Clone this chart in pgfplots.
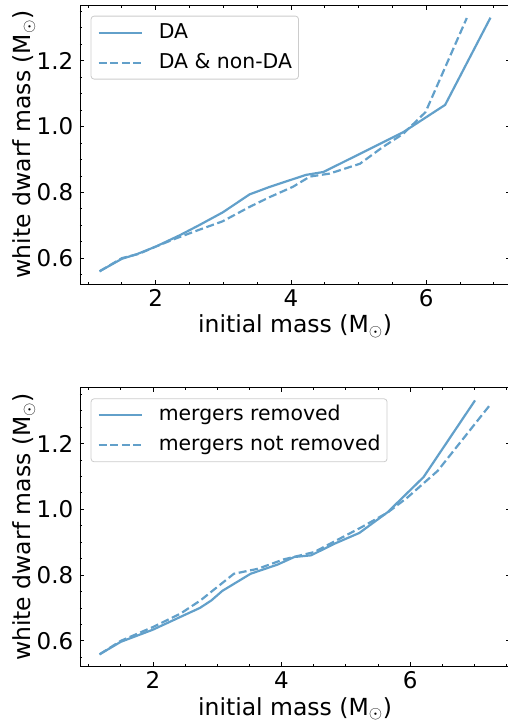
\documentclass[border=0pt]{standalone}
\usepackage{pgfplots}
\pgfplotsset{compat=1.18}
\usepackage{fontspec}
\setmainfont{DejaVu Sans}
\definecolor{c0}{RGB}{98,160,202}

\pgfplotstableread{
x y
1.17 0.560
1.50 0.598
1.72 0.612
2.00 0.635
2.36 0.670
2.64 0.700
2.99 0.739
3.39 0.794
3.69 0.817
4.22 0.853
4.48 0.862
4.97 0.912
5.66 0.983
6.28 1.066
6.95 1.331
}\topsolid
\pgfplotstableread{
x y
1.17 0.560
1.50 0.600
1.75 0.613
2.00 0.635
2.30 0.660
2.64 0.686
2.99 0.712
3.39 0.756
3.69 0.786
4.03 0.817
4.28 0.848
4.57 0.857
5.02 0.887
5.36 0.938
5.66 0.978
5.99 1.044
6.60 1.330
}\topdashed
\pgfplotstableread{
x y
1.17 0.559
1.50 0.597
2.00 0.634
2.43 0.673
2.73 0.700
2.91 0.723
3.08 0.752
3.52 0.804
3.94 0.832
4.20 0.855
4.46 0.860
4.82 0.895
5.21 0.928
5.65 0.991
6.21 1.098
7.01 1.331
}\botsolid
\pgfplotstableread{
x y
1.17 0.559
1.50 0.600
2.00 0.642
2.43 0.683
2.74 0.723
3.26 0.804
3.63 0.819
4.04 0.848
4.51 0.870
5.24 0.945
5.65 0.990
5.96 1.036
6.43 1.117
7.25 1.319
}\botdashed

\pgfplotsset{
  myax/.style={
    width=430bp, height=279bp, scale only axis,
    ymin=0.5214, ymax=1.3696,
    xtick={2,4,6}, minor xtick={1,1.5,...,7.5},
    ytick={0.6,0.8,1.0,1.2}, minor ytick={0.55,0.65,0.7,0.75,0.85,0.9,0.95,1.05,1.1,1.15,1.25,1.3,1.35},
    tick align=inside, xtick pos=both, ytick pos=left,
    extra y ticks={0.6,0.8,1.0,1.2}, extra y tick labels={},
    extra y tick style={ytick pos=right},
    major tick length=4.5bp, minor tick length=2.5bp,
    every tick/.style={black, line width=0.8bp},
    axis line style={black, line width=0.9bp},
    /pgf/number format/assume math mode=true,
    ticklabel style={font=\fontsize{23bp}{28bp}\selectfont},
    xticklabel style={anchor=base, inner sep=0pt, yshift=-22bp},
    yticklabel style={anchor=east, inner sep=0pt, xshift=-6.5bp,
      /pgf/number format/.cd, fixed, fixed zerofill, precision=1},
    label style={font=\fontsize{23.5bp}{28bp}\selectfont},
    ylabel={white dwarf mass (M$_{\odot}$)},
    xlabel={initial mass (M$_{\odot}$)},
    ylabel style={at={(axis description cs:-0.1160,0.5)}, anchor=base, inner sep=0pt},
    xlabel style={at={(axis description cs:0.5,-0.174)}, anchor=base, inner sep=0pt},
    legend cell align=left,
    legend style={at={(axis description cs:0,1)}, anchor=north west,
      xshift=10.7bp, yshift=-10.7bp, draw=black!20, fill=white, line width=0.8bp,
      rounded corners=3bp, font=\fontsize{20.4bp}{24bp}\selectfont,
      inner xsep=6.5bp, inner ysep=7bp, row sep=11bp,
      nodes={inner sep=0pt, text height=15bp, text depth=4bp},
      /tikz/every odd column/.append style={column sep=16bp}},
    legend image code/.code={\draw[##1] (0bp,0bp) -- (43bp,0bp);},
    solidl/.style={c0, line width=2.2bp},
    dashl/.style={c0, line width=2.2bp, dash pattern=on 8bp off 3.6bp},
  }
}

\begin{document}
\begin{tikzpicture}
\begin{axis}[myax, at={(0bp,0bp)}, anchor=north west, xmin=0.881, xmax=7.239]
\addplot[solidl] table {\topsolid};
\addlegendentry{DA}
\addplot[dashl] table {\topdashed};
\addlegendentry{DA \& non-DA}
\end{axis}
\begin{axis}[myax, at={(0bp,-382.7bp)}, anchor=north west, xmin=0.866, xmax=7.554]
\addplot[solidl] table {\botsolid};
\addlegendentry{mergers removed}
\addplot[dashl] table {\botdashed};
\addlegendentry{mergers not removed}
\end{axis}
\pgfresetboundingbox
\useasboundingbox (-80bp,5bp) rectangle (428bp,-719bp);
\end{tikzpicture}
\end{document}
